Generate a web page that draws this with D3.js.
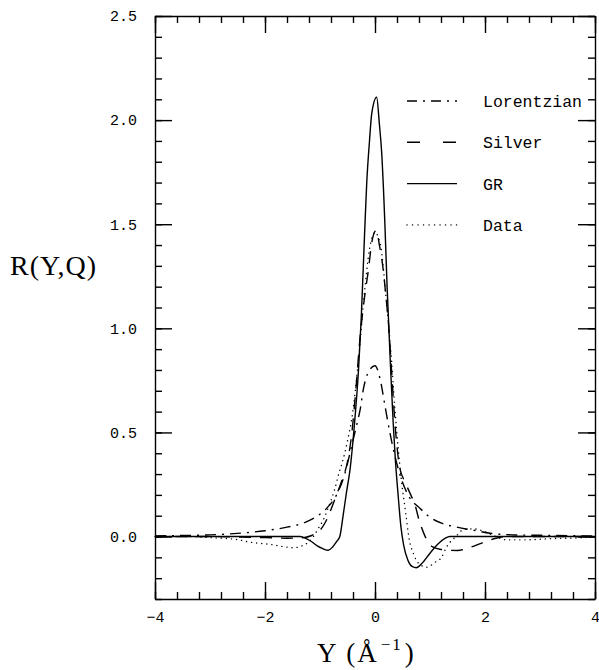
<!DOCTYPE html>
<html>
<head>
<meta charset="utf-8">
<script src="https://cdn.jsdelivr.net/npm/d3@7"></script>
<style>
  body { margin: 0; background: #fff; }
  svg { display: block; }
  .axis path, .axis line { stroke: #000; stroke-width: 1.4; }
  .axis text { font-family: "Liberation Mono", monospace; font-size: 15px; fill: #000; }
  .curve { fill: none; stroke: #000; stroke-width: 1.4; }
  .legend text { font-family: "Liberation Mono", monospace; font-size: 16.5px; fill: #000; }
  .title { font-family: "Liberation Serif", serif; fill: #000; }
</style>
</head>
<body>
<div class="draw"></div>
<script>
// axis ticks
var xMajor = [-4, -2, 0, 2, 4];
var yMajor = [0, 0.5, 1, 1.5, 2, 2.5];

// series: [Y, R]
var lorentzian = [
  [-4, 0.003], [-3.5, 0.005], [-3, 0.008], [-2.5, 0.015], [-2, 0.028], [-1.6, 0.045],
  [-1.3, 0.065], [-1.1, 0.09], [-0.9, 0.13], [-0.7, 0.2], [-0.55, 0.3], [-0.42, 0.44],
  [-0.33, 0.54], [-0.27, 0.61], [-0.21, 0.71], [-0.12, 0.79], [0, 0.82], [0.09, 0.76],
  [0.18, 0.63], [0.27, 0.5], [0.35, 0.4], [0.45, 0.3], [0.6, 0.2], [0.82, 0.135],
  [1.0, 0.093], [1.21, 0.064], [1.49, 0.045], [1.8, 0.03], [2.09, 0.016], [2.5, 0.008],
  [3, 0.006], [3.5, 0.004], [4, 0.003]
];
var silver = [
  [-4, 0], [-3, 0], [-2.5, -0.002], [-2, -0.005], [-1.6, -0.008], [-1.3, -0.005],
  [-1.15, 0.005], [-1.0, 0.03], [-0.9, 0.07], [-0.8, 0.13], [-0.7, 0.2], [-0.6, 0.27],
  [-0.5, 0.36], [-0.42, 0.5], [-0.35, 0.7], [-0.27, 0.96], [-0.18, 1.17], [-0.12, 1.28],
  [-0.06, 1.41], [0.02, 1.47], [0.08, 1.4], [0.15, 1.28], [0.2, 1.15], [0.24, 1.04],
  [0.3, 0.8], [0.37, 0.52], [0.45, 0.33], [0.55, 0.26], [0.65, 0.2], [0.73, 0.15],
  [0.8, 0.08], [0.88, 0.02], [0.95, -0.02], [1.05, -0.05], [1.2, -0.062], [1.5, -0.067],
  [1.75, -0.05], [2.0, -0.025], [2.2, -0.008], [2.4, 0], [3, 0], [4, 0]
];
var gr = [
  [-4, 0], [-3, 0], [-2, 0], [-1.36, 0], [-1.25, -0.01], [-1.15, -0.025], [-1.05, -0.045],
  [-0.95, -0.058], [-0.85, -0.066], [-0.77, -0.05], [-0.7, -0.025], [-0.64, 0],
  [-0.58, 0.1], [-0.52, 0.21], [-0.45, 0.33], [-0.38, 0.52], [-0.3, 0.8], [-0.25, 1.05],
  [-0.19, 1.45], [-0.15, 1.7], [-0.1, 1.9], [-0.06, 2.03], [0.03, 2.11], [0.08, 1.98],
  [0.12, 1.85], [0.18, 1.5], [0.22, 1.2], [0.285, 0.8], [0.33, 0.55], [0.37, 0.37],
  [0.42, 0.2], [0.47, 0.05], [0.52, -0.04], [0.6, -0.115], [0.68, -0.145], [0.75, -0.15],
  [0.85, -0.13], [1.0, -0.08], [1.15, -0.035], [1.28, -0.008], [1.36, 0], [2, 0], [3, 0], [4, 0]
];
var data = [
  [-4, 0], [-3.5, 0], [-3, -0.005], [-2.5, -0.015], [-2.27, -0.027], [-1.9, -0.038],
  [-1.67, -0.048], [-1.49, -0.054], [-1.33, -0.045], [-1.21, -0.027], [-1.12, 0],
  [-1.03, 0.04], [-0.94, 0.08], [-0.82, 0.16], [-0.73, 0.23], [-0.65, 0.31], [-0.58, 0.37],
  [-0.5, 0.46], [-0.42, 0.57], [-0.3, 0.85], [-0.2, 1.15], [-0.1, 1.38], [0, 1.46],
  [0.1, 1.4], [0.2, 1.15], [0.3, 0.85], [0.36, 0.62], [0.42, 0.43], [0.48, 0.27],
  [0.56, 0.11], [0.62, -0.01], [0.7, -0.083], [0.79, -0.128], [0.94, -0.147], [1.09, -0.124],
  [1.21, -0.1], [1.3, -0.051], [1.47, 0], [1.6, 0.032], [1.79, 0.037], [1.97, 0.026],
  [2.15, 0.005], [2.4, -0.016], [2.7, -0.016], [3.2, -0.01], [3.8, -0.005], [4, 0]
];

var labels = ['Lorentzian', 'Silver', 'GR', 'Data'];
var series = [lorentzian, silver, gr, data];

// line styles
var styles = [
  { dash: '11,6,2,6', legendDash: '10,6,2,6', cap: 'butt' },
  { dash: '12,9', legendDash: '13,23', cap: 'butt' },
  { dash: null, legendDash: null, cap: 'butt' },
  { dash: '0.1,5', legendDash: '0.1,5.4', cap: 'round', width: 3 }
];

var size = { w: 599, h: 670, l: 155, r: 595, t: 16, b: 599 };

var x = d3.scaleLinear().domain([-4, 4]).range([size.l, size.r]);
var y = d3.scaleLinear().domain([-0.3, 2.5]).range([size.b, size.t]);

var xMinor = d3.range(0, 21).map(function(i) { return -4 + i*0.4; });
var yMinor = d3.range(0, 29).map(function(i) { return -0.3 + i*0.1; });

var svg = d3.select('.draw').append('svg')
  .attr('width', size.w)
  .attr('height', size.h);

// frame with inward ticks on all four sides
function addAxis(axis, tx, ty, major, minor, labelled) {
  var g = svg.append('g').attr('class', 'axis')
    .attr('transform', 'translate(' + [tx, ty].join(',') + ')');
  g.call(axis(minor[0]).tickValues(minor[1]).tickSize(-7).tickSizeOuter(0).tickFormat(''));
  var m = svg.append('g').attr('class', 'axis')
    .attr('transform', 'translate(' + [tx, ty].join(',') + ')');
  m.call(axis(major[0]).tickValues(major[1]).tickSize(-17).tickSizeOuter(0)
    .tickFormat(labelled ? labelled : ''));
  m.select('.domain').remove();
  return m;
}

var fx = function(d) { return d3.format('d')(d).replace('-', '\u2212'); };
var fy = d3.format('.1f');

addAxis(d3.axisBottom, 0, size.b, [x, xMajor], [x, xMinor], fx)
  .selectAll('.tick text').attr('y', 12);
addAxis(d3.axisTop, 0, size.t, [x, xMajor], [x, xMinor], null);
addAxis(d3.axisLeft, size.l, 0, [y, yMajor], [y, yMinor], fy)
  .selectAll('.tick text').attr('x', -18);
addAxis(d3.axisRight, size.r, 0, [y, yMajor], [y, yMinor], null);

// curves
var line = d3.line()
  .x(function(d) { return x(d[0]); })
  .y(function(d) { return y(d[1]); })
  .curve(d3.curveMonotoneX);

series.forEach(function(s, i) {
  svg.append('path')
    .attr('class', 'curve')
    .attr('d', line(s))
    .attr('stroke-dasharray', styles[i].dash)
    .attr('stroke-linecap', styles[i].cap)
    .attr('stroke-width', styles[i].width || null);
});

// legend
var legend = svg.append('g').attr('class', 'legend');
labels.forEach(function(label, i) {
  var ly = 101 + i*41.3;
  legend.append('line')
    .attr('class', 'curve')
    .attr('x1', 407).attr('x2', 457)
    .attr('y1', ly).attr('y2', ly)
    .attr('stroke-dasharray', styles[i].legendDash)
    .attr('stroke-linecap', styles[i].cap)
    .attr('stroke-width', styles[i].width || null);
  legend.append('text')
    .attr('x', 483)
    .attr('y', ly + 6)
    .text(label);
});

// axis titles
svg.append('text')
  .attr('class', 'title')
  .attr('x', 10)
  .attr('y', 275)
  .attr('font-size', 28)
  .attr('letter-spacing', 1)
  .text('R(Y,Q)');

var xt = svg.append('text')
  .attr('class', 'title')
  .attr('x', 317)
  .attr('y', 662)
  .attr('font-size', 27)
  .attr('letter-spacing', 2);
xt.append('tspan').text('Y (\u00c5');
xt.append('tspan').attr('font-size', 17).attr('dx', 2).attr('dy', -12).text('\u22121');
xt.append('tspan').attr('dx', 2).attr('dy', 12).text(')');
</script>
</body>
</html>
